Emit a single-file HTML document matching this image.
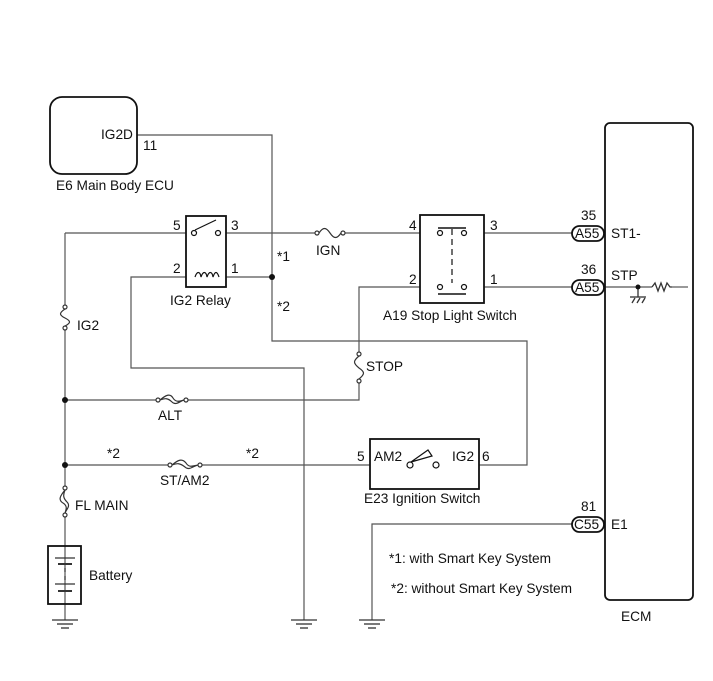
<!DOCTYPE html>
<html><head><style>
body{margin:0;background:#fff}
svg{display:block}
text{font-family:"Liberation Sans",Arial,sans-serif;font-size:13.7px;fill:#111}
</style></head><body>
<svg width="713" height="681" viewBox="0 0 713 681" xmlns="http://www.w3.org/2000/svg">
<g fill="none" stroke="#555" stroke-width="1.2">
<polyline points="137,135 272,135 272,341 527,341 527,465 479,465"/>
<line x1="65" y1="233" x2="186" y2="233"/>
<line x1="226" y1="233" x2="315" y2="233"/>
<line x1="345" y1="233" x2="420" y2="233"/>
<line x1="484" y1="233" x2="572" y2="233"/>
<line x1="226" y1="277" x2="272" y2="277"/>
<polyline points="186,277 131,277 131,368 304,368 304,620"/>
<polyline points="420,287 359,287 359,352"/>
<polyline points="359,383 359,400 188,400"/>
<line x1="156" y1="400" x2="65" y2="400"/>
<line x1="484" y1="287" x2="572" y2="287"/>
<line x1="65" y1="233" x2="65" y2="305"/>
<line x1="65" y1="330" x2="65" y2="488"/>
<line x1="65" y1="515" x2="65" y2="620"/>
<line x1="65" y1="465" x2="168" y2="465"/>
<line x1="202" y1="465" x2="370" y2="465"/>
<polyline points="572,524 372,524 372,620"/>
<line x1="604" y1="287" x2="652" y2="287"/>
<line x1="672" y1="287" x2="688" y2="287"/>
</g>
<g fill="none" stroke="#111" stroke-width="1.8">
<rect x="50" y="97" width="87" height="77" rx="12"/>
<rect x="605" y="123" width="88" height="477" rx="5"/>
<rect x="186" y="216" width="40" height="71"/>
<rect x="420" y="215" width="64" height="88"/>
<rect x="370" y="439" width="109" height="50"/>
<rect x="48" y="546" width="33" height="58"/>
</g>
<g fill="#fff" stroke="#111" stroke-width="1.2">
<circle cx="194" cy="233" r="2.5"/><circle cx="218" cy="233" r="2.5"/>
<line x1="195" y1="230" x2="216" y2="220"/>
<path d="M195,277 c2,-6 5,-6 6,0 c2,-6 5,-6 6,0 c2,-6 5,-6 6,0 c2,-6 4,-6 6,0" fill="none"/>
<circle cx="440" cy="233" r="2.5"/><circle cx="464" cy="233" r="2.5"/>
<line x1="438" y1="228" x2="466" y2="228" stroke-width="1.6"/>
<line x1="452" y1="229" x2="452" y2="283" stroke-dasharray="6,4"/>
<circle cx="440" cy="287" r="2.5"/><circle cx="464" cy="287" r="2.5"/>
<line x1="438" y1="294" x2="466" y2="294" stroke-width="1.6"/>
<circle cx="410" cy="465" r="3"/><circle cx="436" cy="465" r="3"/>
<path d="M411,462 L428,450 L432,456 Z" fill="#fff"/>
</g>
<g fill="#fff" stroke="#333" stroke-width="1.2">
<circle cx="317" cy="233" r="2"/><circle cx="343" cy="233" r="2"/>
<path d="M319,233 c4,-6 7,-6 11,0 c4,6 7,6 11,0" fill="none"/>
<circle cx="65" cy="307" r="2"/><circle cx="65" cy="328" r="2"/>
<path d="M65,309 c-6,4 -6,6 0,9 c6,3 6,5 0,8" fill="none"/>
<circle cx="359" cy="354" r="2"/><circle cx="359" cy="381" r="2"/>
<path d="M359,356 c-6,5 -6,7 0,12 c6,4 6,6 0,11" fill="none"/>
<circle cx="158" cy="400" r="2"/><circle cx="186" cy="400" r="2"/>
<path d="M160,400 c6,-5 10,-7 13,-2 c3,5 7,3 11,2 M160,400 c5,-2 8,-2 12,2 c4,4 8,-1 12,-2" fill="none"/>
<circle cx="170" cy="465" r="2"/><circle cx="200" cy="465" r="2"/>
<path d="M172,465 c6,-5 10,-7 14,-2 c3,5 7,3 12,2 M172,465 c5,-2 8,-2 13,2 c4,4 8,-1 13,-2" fill="none"/>
<circle cx="65" cy="488" r="2"/><circle cx="65" cy="515" r="2"/>
<path d="M65,490 c-5,6 -7,10 -2,13 c5,3 3,7 2,10 M65,490 c-2,5 -2,8 2,12 c4,4 -1,8 -2,11" fill="none"/>
</g>
<g stroke="#333" stroke-width="1.2">
<line x1="55" y1="558" x2="75" y2="558"/><line x1="58" y1="564" x2="72" y2="564" stroke-width="2"/>
<line x1="65" y1="568" x2="65" y2="572"/><line x1="65" y1="576" x2="65" y2="580"/>
<line x1="55" y1="584" x2="75" y2="584"/><line x1="58" y1="591" x2="72" y2="591" stroke-width="2"/>
</g>
<g stroke="#333" stroke-width="1.3">
<line x1="52" y1="620" x2="78" y2="620"/><line x1="57" y1="624" x2="73" y2="624"/><line x1="61" y1="628" x2="69" y2="628"/>
<line x1="291" y1="620" x2="317" y2="620"/><line x1="296" y1="624" x2="312" y2="624"/><line x1="300" y1="628" x2="308" y2="628"/>
<line x1="359" y1="620" x2="385" y2="620"/><line x1="364" y1="624" x2="380" y2="624"/><line x1="368" y1="628" x2="376" y2="628"/>
<line x1="638" y1="287" x2="638" y2="297"/>
<line x1="630" y1="297" x2="646" y2="297"/>
<line x1="632" y1="303" x2="635" y2="298"/><line x1="637" y1="303" x2="640" y2="298"/><line x1="642" y1="303" x2="645" y2="298"/>
<polyline fill="none" points="652,287 655,283 658,291 661,283 664,291 667,283 670,287 672,287"/>
</g>
<g fill="#111">
<circle cx="272" cy="277" r="3"/><circle cx="65" cy="400" r="3"/><circle cx="65" cy="465" r="3"/><circle cx="638" cy="287" r="2.5"/>
</g>
<g fill="#fff" stroke="#111" stroke-width="1.8">
<rect x="572" y="226" width="32" height="15" rx="7.5"/>
<rect x="572" y="280" width="32" height="15" rx="7.5"/>
<rect x="572" y="517" width="32" height="15" rx="7.5"/>
</g>
<text x="575" y="238">A55</text><text x="575" y="292">A55</text><text x="574" y="529">C55</text>
<text x="581" y="220">35</text><text x="581" y="274">36</text><text x="581" y="511">81</text>
<text x="611" y="238">ST1-</text><text x="611" y="280">STP</text><text x="611" y="529">E1</text>
<text x="621" y="621">ECM</text>
<text x="101" y="139">IG2D</text><text x="143" y="150">11</text>
<text x="56" y="190">E6  Main Body ECU</text>
<text x="173" y="230">5</text><text x="231" y="230">3</text>
<text x="173" y="273">2</text><text x="231" y="273">1</text>
<text x="170" y="305">IG2 Relay</text>
<text x="277" y="261">*1</text><text x="277" y="311">*2</text>
<text x="316" y="255">IGN</text>
<text x="409" y="230">4</text><text x="490" y="230">3</text>
<text x="409" y="284">2</text><text x="490" y="284">1</text>
<text x="383" y="320">A19 Stop Light Switch</text>
<text x="366" y="371">STOP</text>
<text x="77" y="330">IG2</text>
<text x="158" y="420">ALT</text>
<text x="107" y="458">*2</text><text x="246" y="458">*2</text>
<text x="160" y="485">ST/AM2</text>
<text x="75" y="510">FL MAIN</text>
<text x="89" y="580">Battery</text>
<text x="357" y="461">5</text><text x="374" y="461">AM2</text>
<text x="452" y="461">IG2</text><text x="482" y="461">6</text>
<text x="364" y="503">E23  Ignition Switch</text>
<text x="389" y="563">*1: with Smart Key System</text>
<text x="391" y="593">*2: without Smart Key System</text>
</svg>
</body></html>
